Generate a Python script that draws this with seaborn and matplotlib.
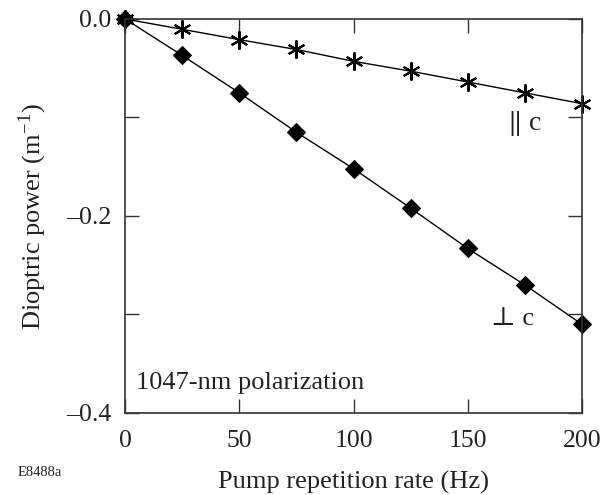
import matplotlib
matplotlib.use("Agg")
import matplotlib.pyplot as plt
import seaborn as sns
import pandas as pd

# pump repetition rate (Hz)
rate = [0, 25, 50, 75, 100, 125, 150, 175, 200]
# dioptric power (1/m) for the two orientations
par_c = [0.0, -0.0105, -0.021, -0.031, -0.043, -0.053, -0.064, -0.075, -0.086]
perp_c = [0.0, -0.037, -0.075, -0.115, -0.152, -0.192, -0.233, -0.270, -0.310]

x_ticks = [0, 50, 100, 150, 200]
y_ticks = [0.0, -0.1, -0.2, -0.3, -0.4]
y_labels = ["0.0", "", "\u20130.2", "", "\u20130.4"]

sns.set_style("ticks")
plt.rcParams["font.family"] = ["Liberation Serif", "DejaVu Serif"]
plt.rcParams["mathtext.fontset"] = "stix"

fig = plt.figure(figsize=(6.15, 4.95), dpi=100)
ax = fig.add_axes([0.2033, 0.1657, 0.743, 0.796])

df = pd.DataFrame({"rate": rate, "par": par_c, "perp": perp_c})

sns.lineplot(data=df, x="rate", y="perp", ax=ax, color="black", linewidth=1.0,
             marker="D", markersize=9, markeredgecolor="black", clip_on=False)
sns.lineplot(data=df, x="rate", y="par", ax=ax, color="black", linewidth=1.0,
             marker=(6, 2, 0), markersize=13, markeredgewidth=1.5,
             markeredgecolor="black", clip_on=False)

ax.set_xlim(0, 200)
ax.set_ylim(-0.4, 0.0)
ax.set_xticks(x_ticks)
ax.set_yticks(y_ticks)
ax.set_yticklabels(y_labels)
ax.tick_params(direction="in", length=10, width=1, top=True, right=True,
               labelsize=18.5, color="#333333", labelcolor="#222222")
ax.tick_params(axis="x", pad=12)
ax.tick_params(axis="y", pad=10)
for s in ax.spines.values():
    s.set_linewidth(1.2)
    s.set_color("#333333")

ax.set_xlabel("Pump repetition rate (Hz)", fontsize=19, labelpad=14, color="#222222")
ax.set_ylabel("Dioptric power (m$^{\\mathregular{\u22121}}$)", fontsize=19,
              labelpad=12, color="#222222")

ax.text(167, -0.106, "$\\Vert$ c", fontsize=20, ha="left", va="center", color="#222222")
ax.text(160, -0.305, "\u22a5 c", fontsize=19, ha="left", va="center", color="#222222")
ax.text(5, -0.370, "1047-nm polarization", fontsize=19, ha="left", va="center",
        color="#222222")
fig.text(0.028, 0.045, "E8488a", fontsize=10.5, ha="left", va="center", color="#222222")

fig.savefig("out.png", dpi=100)
